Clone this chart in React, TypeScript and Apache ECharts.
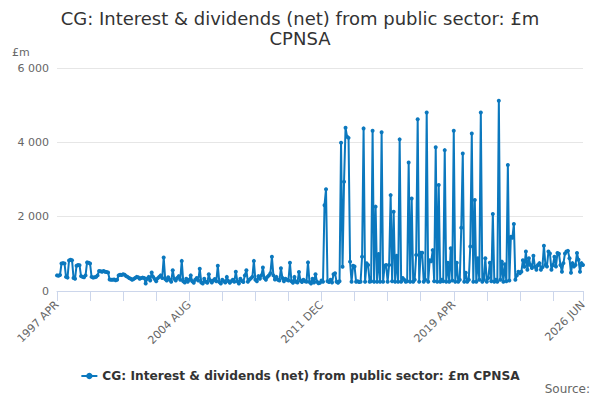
import { useEffect, useRef } from "react";
import * as echarts from "echarts";

const LINE = "#0b78be";
const AXIS = "#666666";
const GRID = "#e6e6e6";
const TICK = "#ccd6eb";
const FONT = "DejaVu Sans";

const TITLE = "CG: Interest & dividends (net) from public sector: £m\nCPNSA";
const SERIES_NAME = "CG: Interest & dividends (net) from public sector: £m CPNSA";
const MONTHS = ["JAN", "FEB", "MAR", "APR", "MAY", "JUN", "JUL", "AUG", "SEP", "OCT", "NOV", "DEC"];
const START_YEAR = 1997;
const START_MONTH = 3; // APR

// monthly values, £m (1997 APR .. 2026 JUN)
const V_1997_2001 = [
  420, 410, 430, 740, 750, 740, 380, 360, 820,
  840, 830, 350, 330, 680, 700, 690, 400, 380, 370, 420, 770,
  760, 740, 380, 360, 370, 380, 420, 540, 530, 520, 540, 520,
  510, 500, 310, 300, 300, 310, 290, 300, 420, 440, 430, 450,
  440, 400, 380, 350, 330, 300, 320, 350, 380, 370, 330, 350,
];
const V_2002_2006 = [
  360, 350, 200, 330, 380, 280, 500, 380, 320, 260, 340, 380,
  420, 350, 900, 320, 280, 370, 300, 250, 560, 330, 280, 350,
  400, 300, 810, 260, 230, 330, 250, 300, 420, 260, 220, 300,
  350, 280, 600, 230, 200, 330, 250, 220, 450, 280, 230, 280,
  320, 260, 680, 240, 200, 300, 260, 230, 380, 270, 220, 260,
];
const V_2007_2011 = [
  300, 250, 520, 260, 200, 330, 270, 240, 420, 560, 250, 300,
  340, 380, 810, 300, 260, 400, 330, 420, 630, 350, 300, 380,
  420, 480, 920, 420, 310, 380, 300, 280, 610, 350, 260, 330,
  300, 280, 760, 260, 220, 380, 250, 230, 510, 280, 240, 300,
  260, 250, 770, 240, 200, 330, 230, 450, 250, 210, 220, 280,
];
const V_2012_2016 = [
  250, 2310, 2740, 260, 240, 300, 230, 450, 480, 250, 220, 260,
  3990, 650, 2940, 4390, 4150, 4120, 790, 250, 680, 660, 250, 260,
  240, 250, 920, 4375, 250, 745, 700, 250, 260, 4310, 250, 2270,
  250, 995, 250, 4270, 250, 680, 700, 250, 700, 2580, 260, 2130,
  250, 950, 250, 4080, 250, 350, 300, 250, 260, 3460, 250, 2490,
];
const V_2017_2021 = [
  250, 300, 970, 4620, 250, 1030, 1030, 250, 300, 4800, 250, 830,
  800, 1100, 260, 3865, 250, 2850, 250, 300, 260, 3790, 250, 760,
  250, 1150, 280, 4310, 250, 760, 250, 300, 1700, 3700, 250, 490,
  250, 300, 1200, 4240, 250, 2450, 250, 880, 300, 4800, 250, 300,
  880, 250, 350, 760, 260, 2070, 250, 300, 250, 5120, 300, 790,
];
const V_2022_2026 = [
  250, 720, 260, 3390, 280, 1460, 1430, 1800, 300, 420, 520, 480,
  520, 830, 650, 1060, 570, 880, 700, 620, 950, 650, 570, 700,
  750, 570, 640, 1220, 700, 660, 1060, 1010, 570, 700, 920, 660,
  1020, 1000, 700, 520, 750, 1010, 1060, 1080, 880, 490, 750, 660,
  700, 1020, 840, 520, 750, 700,
];

const values = [...V_1997_2001, ...V_2002_2006, ...V_2007_2011, ...V_2012_2016, ...V_2017_2021, ...V_2022_2026];
const categories = values.map((_, i) => {
  const m = START_MONTH + i;
  return `${START_YEAR + Math.floor(m / 12)} ${MONTHS[m % 12]}`;
});
const LAST = categories.length - 1;

const fmtThousands = (v: number) => String(v).replace(/\B(?=(\d{3})+(?!\d))/g, " ");

export default function App() {
  const elRef = useRef<HTMLDivElement>(null);

  useEffect(() => {
    document.body.style.margin = "0";
    const el = elRef.current;
    if (!el) return;
    const chart = echarts.init(el, null, { renderer: "svg" });
    chart.setOption({
      animation: false,
      backgroundColor: "#ffffff",
      textStyle: { fontFamily: FONT },
      title: {
        text: TITLE,
        left: "center",
        top: 3,
        textStyle: { fontFamily: FONT, fontSize: 18, fontWeight: "normal", color: "#333333", lineHeight: 20 },
      },
      grid: { left: 57, right: 17, top: 68, bottom: 109 },
      legend: {
        data: [SERIES_NAME],
        left: "center",
        top: 365,
        itemWidth: 16,
        itemHeight: 8,
        itemGap: 6,
        textStyle: { fontFamily: FONT, fontSize: 12.2, fontWeight: "bold", color: "#333333" },
      },
      graphic: [
        { type: "text", left: 12, top: 47, style: { text: "£m", fill: AXIS, font: `11px "${FONT}"` } },
        { type: "text", right: 10, top: 383, style: { text: "Source:", fill: AXIS, font: `12px "${FONT}"` } },
      ],
      xAxis: {
        type: "category",
        data: categories,
        boundaryGap: false,
        axisLine: { lineStyle: { color: TICK } },
        axisTick: {
          length: 10,
          lineStyle: { color: TICK },
          interval: (i: number) => i % 22 === 0 || i === LAST,
        },
        axisLabel: {
          rotate: 45,
          color: AXIS,
          fontSize: 11,
          margin: 12,
          interval: (i: number) => i % 88 === 0 || i === LAST,
        },
        splitLine: { show: false },
      },
      yAxis: {
        type: "value",
        min: 0,
        max: 6000,
        interval: 2000,
        axisLine: { show: false },
        axisTick: { show: false },
        axisLabel: { color: AXIS, fontSize: 11, margin: 8, formatter: fmtThousands },
        splitLine: { lineStyle: { color: GRID } },
      },
      series: [
        {
          name: SERIES_NAME,
          type: "line",
          data: values,
          symbol: "circle",
          symbolSize: 4,
          showSymbol: true,
          showAllSymbol: true,
          lineStyle: { width: 2, color: LINE },
          itemStyle: { color: LINE },
        },
      ],
    });
    return () => chart.dispose();
  }, []);

  return <div ref={elRef} style={{ width: 600, height: 400 }} />;
}
